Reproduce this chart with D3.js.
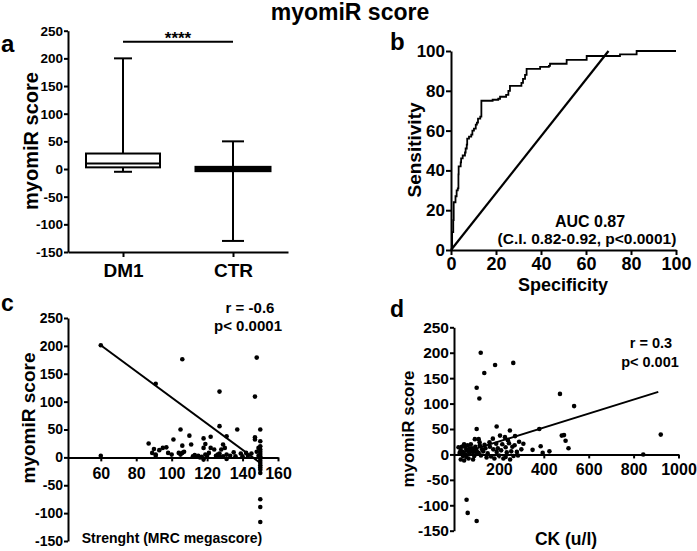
<!DOCTYPE html>
<html><head><meta charset="utf-8">
<script src="https://cdn.jsdelivr.net/npm/d3@7/dist/d3.min.js"></script>
<style>
body{margin:0;background:#fff;}
svg{display:block;font-family:"Liberation Sans",Arial,sans-serif;font-weight:bold;}
.ax path,.ax line{stroke:#000;stroke-width:2;}
.ax text{fill:#000;font-weight:bold;}
</style></head><body>
<svg id="c" width="697" height="551"></svg>
<script>
// ---- Data ----
const title = "myomiR score";
const boxGroups = ["DM1", "CTR"];
const boxMin = [-5, -130];
const boxQ1 = [3, -3];
const boxMedian = [10, 0];
const boxQ3 = [28, 3];
const boxMax = [200, 50];
const scoreTicks = [-150, -100, -50, 0, 50, 100, 150, 200, 250];

const rocX = [0,0.5,1,1.2,1.8,2,2.5,3,3.3,3.4,4.3,4.5,5.2,6.2,6.5,7,7.2,8,9,9.5,10.2,11,11.5,12,13,13.5,17,18.5,21,21.8,24.5,25.5,26.2,30.5,31.3,32,32.9,33.6,38.8,39.6,43.5,44,50.7,51.4,58.8,60.3,74.4,75.1,81.8,82.5,100];
const rocY = [0,9,15,24,24,27,30,31,38,42,44,46,47.5,49,51,53,56,57,58,60,61,63,64,66,67,75,75,75.5,76,77,78,80,82.5,82.5,84,86,88,91,91,92,92.5,93.6,93.6,95.5,95.5,97.5,97.5,98.3,98.3,100,100];
const rocDiagX = [0, 70];
const rocDiagY = [0, 100];
const rocTicks = [0, 20, 40, 60, 80, 100];

const strengthX = [60,60,87,89,90,91,91,93,95,97,98,91,101,105,106,106,105,106,107,110,111,112,114,115,117,118,118,119,118,119,120,122,122,124,125,127,127,127,127,128,129,129,130,131,131,131,135,136,137,139,140,142,145,148,147,147,147,149,150,150,150,150,150,150,150,150,150,150,150,150,150,150,150,150,150,149,148,100,104,113,116,121,126,133,143];
const strengthY = [201,3,25,8,15,5,3,13,17,18,8,132,32,50,176,21,5,8,10,39,23,2,1,3,1,34,17,24,-4,5,3,17,37,14,3,118,56,7,1,14,23,2,17,5,-3,38,9,2,50,7,2,8,7,179,109,36,32,17,50,29,20,14,10,6,2,-2,-6,-10,-14,-18,-22,-28,-75,-89,-116,3,10,5,8,4,0,8,5,3,3];
const strengthFitX = [60, 150];
const strengthFitY = [201, -10];
const strengthTicks = [60, 80, 100, 120, 140, 160];

const ckX = [119,101,113,135,183,264,56,61,101,101,190,205,249,227,272,309,380,93,114,136,158,173,188,472,535,480,490,497,510,386,350,395,425,843,921,300,290,260,240,230,250,265,280,210,200,190,175,165,150,140,130,120,110,100,95,90,85,80,75,70,65,60,55,50,45,40,35,30,25,20,30,45,55,70,85,100,115,125,145,160,180,195,215,235,255,245,270,285,110,65,50,40,220,230];
const ckY = [200,131,110,160,176,180,-89,-115,-131,50,55,37,47,34,36,21,50,30,24,19,24,31,21,119,95,37,38,27,12,16,9,3,6,0,39,10,25,15,28,-5,-10,-3,5,8,-2,5,10,-4,2,12,6,-2,3,8,15,-3,5,12,20,3,-8,18,10,0,-12,5,15,-10,3,14,8,20,-5,12,-10,1,18,10,-6,15,-8,12,20,4,6,22,18,-2,30,5,15,-3,-8,14];
const ckFitX = [30, 910];
const ckFitY = [2, 123];
const ckTicks = [200, 400, 600, 800, 1000];

// ---- Drawing ----
const fmt = d => String(d);
const svg = d3.select("#c");
svg.append("text").attr("x", 350).attr("y", 20).attr("text-anchor", "middle")
  .attr("font-size", 23).text(title);

function letter(t, x, y, fs) {
  svg.append("text").attr("x", x).attr("y", y).attr("font-size", fs).text(t);
}
function styleAxis(g, fs) {
  g.attr("class", "ax").attr("font-size", fs).attr("font-family", null);
  g.selectAll("text").attr("font-weight", "bold");
}
function yLabel(t, x, y, fs) {
  svg.append("text").attr("transform", `translate(${x},${y}) rotate(-90)`)
    .attr("text-anchor", "middle").attr("font-size", fs).text(t);
}

// Panel a
letter("a", 1, 52, 24);
const xA = d3.scalePoint().domain(boxGroups).range([68, 288]).padding(0.5);
const yA = d3.scaleLinear().domain([-150, 250]).range([252, 30.7]);
const gAy = svg.append("g").attr("transform", "translate(68,0)")
  .call(d3.axisLeft(yA).tickValues(scoreTicks).tickFormat(fmt).tickSize(4).tickPadding(1).tickSizeOuter(0));
styleAxis(gAy, 13.5);
const gAx = svg.append("g").attr("transform", "translate(0,252)")
  .call(d3.axisBottom(xA).tickSize(5).tickPadding(7).tickSizeOuter(0));
styleAxis(gAx, 19);
yLabel("myomiR score", 38, 141, 20);
const boxHalf = 37, capHalf = [9, 11];
boxGroups.forEach((g, i) => {
  const cx = xA(g);
  const gg = svg.append("g").attr("stroke", "#000").attr("stroke-width", 2).attr("fill", "none");
  gg.append("line").attr("x1", cx).attr("x2", cx).attr("y1", yA(boxMax[i])).attr("y2", yA(boxQ3[i]));
  gg.append("line").attr("x1", cx).attr("x2", cx).attr("y1", yA(boxQ1[i])).attr("y2", yA(boxMin[i]));
  gg.append("line").attr("x1", cx - capHalf[i]).attr("x2", cx + capHalf[i]).attr("y1", yA(boxMax[i])).attr("y2", yA(boxMax[i]));
  gg.append("line").attr("x1", cx - capHalf[i]).attr("x2", cx + capHalf[i]).attr("y1", yA(boxMin[i])).attr("y2", yA(boxMin[i]));
  gg.append("rect").attr("x", cx - boxHalf).attr("width", 2 * boxHalf)
    .attr("y", yA(boxQ3[i])).attr("height", yA(boxQ1[i]) - yA(boxQ3[i]))
    .attr("fill", i === 1 ? "#000" : "#fff").attr("stroke-width", i === 1 ? 3 : 2);
  gg.append("line").attr("x1", cx - boxHalf).attr("x2", cx + boxHalf).attr("y1", yA(boxMedian[i])).attr("y2", yA(boxMedian[i]));
});
svg.append("line").attr("x1", xA("DM1")).attr("x2", xA("CTR")).attr("y1", yA(230)).attr("y2", yA(230))
  .attr("stroke", "#000").attr("stroke-width", 2);
svg.append("text").attr("x", (xA("DM1") + xA("CTR")) / 2).attr("y", yA(230) + 2)
  .attr("text-anchor", "middle").attr("font-size", 17).text("****");

// Panel b
letter("b", 390, 50, 24);
const xB = d3.scaleLinear().domain([0, 100]).range([451, 676]);
const yB = d3.scaleLinear().domain([0, 100]).range([250, 51]);
const gBy = svg.append("g").attr("transform", "translate(451,0)")
  .call(d3.axisLeft(yB).tickValues(rocTicks).tickSize(5).tickPadding(1).tickSizeOuter(0));
styleAxis(gBy, 17);
const gBx = svg.append("g").attr("transform", "translate(0,250)")
  .call(d3.axisBottom(xB).tickValues(rocTicks).tickSize(5).tickPadding(2).tickSizeOuter(0));
styleAxis(gBx, 18);
yLabel("Sensitivity", 421, 150, 19);
svg.append("text").attr("x", 563).attr("y", 291).attr("text-anchor", "middle").attr("font-size", 18).text("Specificity");
const rocPts = rocX.map((x, i) => [x, rocY[i]]);
svg.append("path").datum(rocPts)
  .attr("d", d3.line().x(d => xB(d[0])).y(d => yB(d[1])).curve(d3.curveStepAfter))
  .attr("fill", "none").attr("stroke", "#000").attr("stroke-width", 1.8);
svg.append("line").attr("x1", xB(rocDiagX[0])).attr("y1", yB(rocDiagY[0]))
  .attr("x2", xB(rocDiagX[1])).attr("y2", yB(rocDiagY[1]))
  .attr("stroke", "#000").attr("stroke-width", 2.2);
svg.append("text").attr("x", 590).attr("y", 227).attr("text-anchor", "middle").attr("font-size", 16).text("AUC 0.87");
svg.append("text").attr("x", 587).attr("y", 244).attr("text-anchor", "middle").attr("font-size", 15.5).text("(C.I. 0.82-0.92, p<0.0001)");

// Panel c
letter("c", 1, 311, 23);
const xC = d3.scaleLinear().domain([41.5, 160]).range([68, 278]);
const yC = d3.scaleLinear().domain([-150, 250]).range([541, 318]);
const gCy = svg.append("g").attr("transform", "translate(68,0)")
  .call(d3.axisLeft(yC).tickValues(scoreTicks).tickFormat(fmt).tickSize(4).tickPadding(1).tickSizeOuter(0));
styleAxis(gCy, 14);
const gCx = svg.append("g").attr("transform", `translate(0,${yC(0)})`)
  .call(d3.axisBottom(xC).tickValues(strengthTicks).tickSize(4).tickPadding(6).tickSizeOuter(0));
styleAxis(gCx, 16);
yLabel("myomiR score", 35, 418, 19);
svg.append("text").attr("x", 172).attr("y", 543).attr("text-anchor", "middle").attr("font-size", 14).text("Strenght (MRC megascore)");
svg.append("line").attr("x1", xC(strengthFitX[0])).attr("y1", yC(strengthFitY[0]))
  .attr("x2", xC(strengthFitX[1])).attr("y2", yC(strengthFitY[1]))
  .attr("stroke", "#000").attr("stroke-width", 2);
svg.append("g").selectAll("circle").data(strengthX.map((x, i) => [x, strengthY[i]])).join("circle")
  .attr("cx", d => xC(d[0])).attr("cy", d => yC(d[1])).attr("r", 2.3).attr("fill", "#000");
svg.append("text").attr("x", 250).attr("y", 313).attr("text-anchor", "middle").attr("font-size", 15).text("r = -0.6");
svg.append("text").attr("x", 248).attr("y", 331).attr("text-anchor", "middle").attr("font-size", 15).text("p< 0.0001");

// Panel d
letter("d", 390, 317, 23);
const xD = d3.scaleLinear().domain([0, 1000]).range([454, 678.5]);
const yD = d3.scaleLinear().domain([-150, 250]).range([530.7, 327.3]);
const gDy = svg.append("g").attr("transform", "translate(454,0)")
  .call(d3.axisLeft(yD).tickValues(scoreTicks).tickFormat(fmt).tickSize(4).tickPadding(1).tickSizeOuter(0));
styleAxis(gDy, 15.5);
const gDx = svg.append("g").attr("transform", `translate(0,${yD(0)})`)
  .call(d3.axisBottom(xD).tickValues(ckTicks).tickFormat(fmt).tickSize(4).tickPadding(5).tickSizeOuter(0));
styleAxis(gDx, 16);
yLabel("myomiR score", 414, 429, 17);
svg.append("text").attr("x", 566).attr("y", 545).attr("text-anchor", "middle").attr("font-size", 17.5).text("CK (u/l)");
svg.append("line").attr("x1", xD(ckFitX[0])).attr("y1", yD(ckFitY[0]))
  .attr("x2", xD(ckFitX[1])).attr("y2", yD(ckFitY[1]))
  .attr("stroke", "#000").attr("stroke-width", 2);
svg.append("g").selectAll("circle").data(ckX.map((x, i) => [x, ckY[i]])).join("circle")
  .attr("cx", d => xD(d[0])).attr("cy", d => yD(d[1])).attr("r", 2.3).attr("fill", "#000");
svg.append("text").attr("x", 651).attr("y", 348).attr("text-anchor", "middle").attr("font-size", 14.5).text("r = 0.3");
svg.append("text").attr("x", 650).attr("y", 367).attr("text-anchor", "middle").attr("font-size", 14.5).text("p< 0.001");
</script></body></html>
